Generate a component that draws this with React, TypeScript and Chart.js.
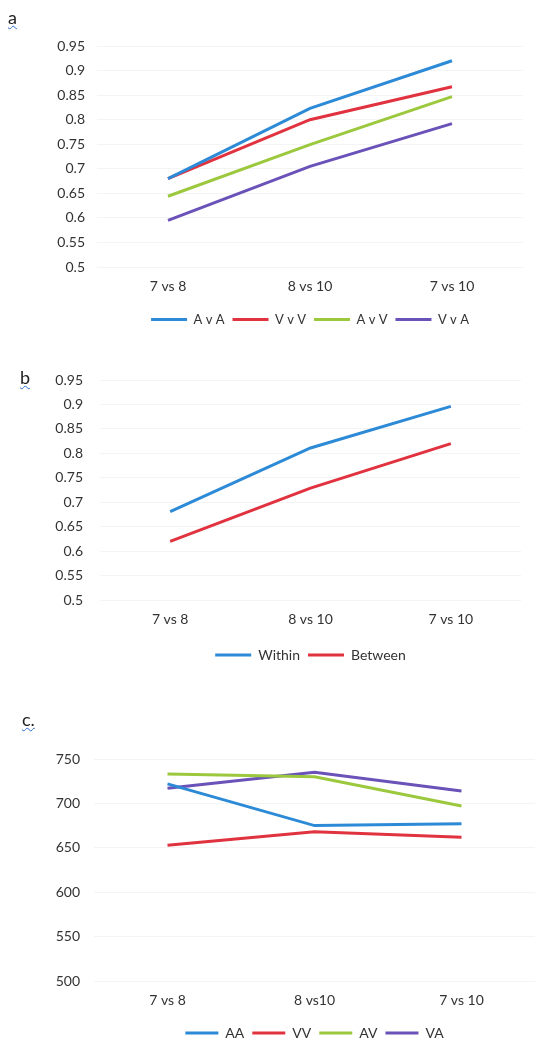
import React, { useEffect, useRef } from 'react';
import { Chart, registerables } from 'chart.js';

Chart.register(...registerables);

// ---------- data ----------
const categoriesAB = ['7 vs 8', '8 vs 10', '7 vs 10'];
const categoriesC = ['7 vs 8', '8 vs10', '7 vs 10'];

const aAvA = [0.68, 0.823, 0.92];
const aVvV = [0.68, 0.8, 0.867];
const aAvV = [0.644, 0.749, 0.847];
const aVvA = [0.595, 0.705, 0.792];

const bWithin = [0.681, 0.811, 0.896];
const bBetween = [0.62, 0.729, 0.82];

const cAA = [722, 675, 677];
const cVV = [653, 668, 662];
const cAV = [733, 730, 697];
const cVA = [717, 735, 714];

const yTicksAB = [0.5, 0.55, 0.6, 0.65, 0.7, 0.75, 0.8, 0.85, 0.9, 0.95];
const yTicksC = [500, 550, 600, 650, 700, 750];

const BLUE = '#2d8ad6';
const RED = '#e0323f';
const GREEN = '#9cc83e';
const PURPLE = '#6a52b8';
const FONT = 'Lato, "Open Sans", sans-serif';
const TEXT = '#333333';

type Series = { label: string; data: number[]; color: string };

type PanelProps = {
  top: number;
  height: number;
  padTop: number;
  left: number;
  right: number;
  yLabelPad: number;
  xAxisH: number;
  categories: string[];
  yTicks: number[];
  series: Series[];
  legendFont: number;
  legendBox: number;
  legendPad: number;
};

function Panel(p: PanelProps) {
  const ref = useRef<HTMLCanvasElement | null>(null);
  useEffect(() => {
    if (!ref.current) return;
    const yMin = p.yTicks[0];
    const yMax = p.yTicks[p.yTicks.length - 1];
    const chart = new Chart(ref.current, {
      type: 'line',
      data: {
        labels: p.categories,
        datasets: p.series.map((s) => ({
          label: s.label,
          data: s.data,
          borderColor: s.color,
          backgroundColor: s.color,
          borderWidth: 3,
          pointRadius: 0,
          tension: 0,
          fill: false,
        })),
      },
      options: {
        animation: false,
        responsive: false,
        layout: { padding: { top: p.padTop, left: 0, right: 545 - p.right, bottom: 0 } },
        plugins: {
          tooltip: { enabled: false },
          legend: {
            position: 'bottom',
            fullSize: false,
            labels: {
              usePointStyle: true,
              pointStyle: 'line',
              pointStyleWidth: p.legendBox,
              boxHeight: p.legendFont,
              padding: p.legendPad,
              color: TEXT,
              font: { family: FONT, size: p.legendFont },
            },
          },
        },
        scales: {
          x: {
            type: 'category',
            offset: true,
            grid: { display: false, drawTicks: false },
            border: { display: false },
            ticks: { color: TEXT, font: { family: FONT, size: 14 }, padding: 11, maxRotation: 0 },
            afterFit: (scale: any) => {
              scale.height = p.xAxisH;
            },
          },
          y: {
            type: 'linear',
            min: yMin,
            max: yMax,
            grid: { color: '#f4f4f4', lineWidth: 1, drawTicks: false },
            border: { display: false },
            ticks: {
              color: TEXT,
              font: { family: FONT, size: 14 },
              padding: p.left - p.yLabelPad,
              callback: (v: any) => String(Number(Number(v).toFixed(2))),
            },
            afterBuildTicks: (scale: any) => {
              scale.ticks = p.yTicks.map((v) => ({ value: v }));
            },
            afterFit: (scale: any) => {
              scale.width = p.left;
            },
          },
        },
      } as any,
    });
    return () => chart.destroy();
  }, []);
  return (
    <canvas
      ref={ref}
      width={545}
      height={p.height}
      style={{ position: 'absolute', left: 0, top: p.top, width: 545, height: p.height, display: 'block' }}
    />
  );
}

const letterStyle = (left: number, top: number): React.CSSProperties => ({
  position: 'absolute',
  left,
  top,
  fontFamily: FONT,
  fontSize: 18,
  color: '#222',
  textDecoration: 'underline wavy #2d6fd0',
  textDecorationThickness: 1,
  lineHeight: '18px',
});

export default function App() {
  return (
    <div style={{ position: 'absolute', left: 0, top: 0, width: 545, height: 1055, background: '#fff', overflow: 'hidden' }}>
      <Panel
        top={0}
        height={336}
        padTop={46}
        left={97}
        right={523}
        yLabelPad={85}
        xAxisH={38}
        categories={categoriesAB}
        yTicks={yTicksAB}
        legendFont={13}
        legendBox={36}
        legendPad={8}
        series={[
          { label: 'A v A', data: aAvA, color: BLUE },
          { label: 'V v V', data: aVvV, color: RED },
          { label: 'A v V', data: aAvV, color: GREEN },
          { label: 'V v A', data: aVvA, color: PURPLE },
        ]}
      />
      <Panel
        top={340}
        height={332}
        padTop={40}
        left={100}
        right={521}
        yLabelPad={83}
        xAxisH={40}
        categories={categoriesAB}
        yTicks={yTicksAB}
        legendFont={14}
        legendBox={36}
        legendPad={8}
        series={[
          { label: 'Within', data: bWithin, color: BLUE },
          { label: 'Between', data: bBetween, color: RED },
        ]}
      />
      <Panel
        top={700}
        height={350}
        padTop={59}
        left={94}
        right={535}
        yLabelPad={80}
        xAxisH={37}
        categories={categoriesC}
        yTicks={yTicksC}
        legendFont={14}
        legendBox={33}
        legendPad={8}
        series={[
          { label: 'AA', data: cAA, color: BLUE },
          { label: 'VV', data: cVV, color: RED },
          { label: 'AV', data: cAV, color: GREEN },
          { label: 'VA', data: cVA, color: PURPLE },
        ]}
      />
      <div style={letterStyle(8, 8)}>a</div>
      <div style={letterStyle(20, 368)}>b</div>
      <div style={letterStyle(22, 710)}>c.</div>
    </div>
  );
}
